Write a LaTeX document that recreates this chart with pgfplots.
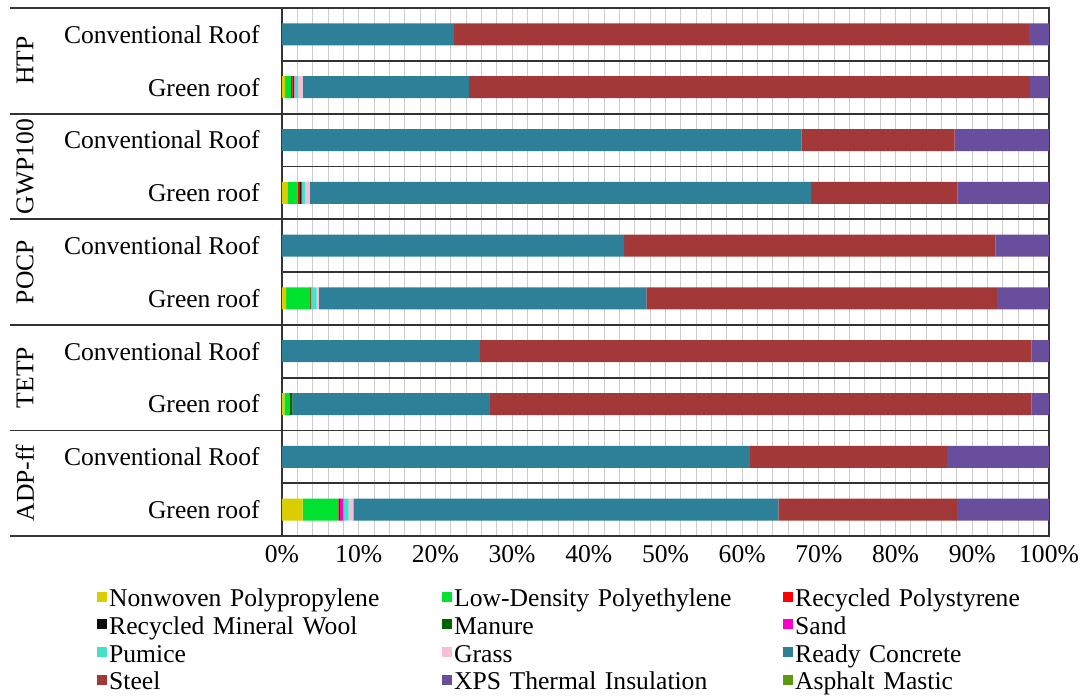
\documentclass[border=0pt]{standalone}
\usepackage{pgfplots}
\pgfplotsset{compat=1.18}
\usepackage{pgfplotstable}
\usepackage{fontspec}
\setmainfont{Liberation Serif}

\definecolor{cNP}{RGB}{218,206,0}
\definecolor{cLDPE}{RGB}{0,226,48}
\definecolor{cRPS}{RGB}{250,0,0}
\definecolor{cRMW}{RGB}{10,10,10}
\definecolor{cMAN}{RGB}{0,100,0}
\definecolor{cSAND}{RGB}{255,0,200}
\definecolor{cPUM}{RGB}{70,226,200}
\definecolor{cGRASS}{RGB}{248,190,215}
\definecolor{cCONC}{RGB}{46,128,153}
\definecolor{cSTEEL}{RGB}{163,56,56}
\definecolor{cXPS}{RGB}{106,78,158}
\definecolor{cASPH}{RGB}{90,154,16}

\newcommand{\fs}{\fontsize{12.8}{14}\selectfont}

% share of each material (%), rows: HTP conv/green, GWP100, POCP, TETP, ADP-ff
\pgfplotstableread{
y NP  LDPE RPS  RMW  MAN  SAND PUM  GRASS CONC  STEEL XPS  ASPH
0 0   0    0    0    0    0    0    0     22.4  75.0  2.6  0
1 0.4 0.8  0.2  0.05 0.1  0.05 0.5  0.6   21.7  73.1  2.5  0
2 0   0    0    0    0    0    0    0     67.7  20.0  12.3 0
3 0.7 1.35 0.3  0.1  0.1  0.05 0.45 0.6   65.35 19.1  11.9 0
4 0   0    0    0    0    0    0    0     44.6  48.4  7.0  0
5 0.55 3.1 0.05 0    0.05 0.05 0.7  0.3   42.7  45.7  6.8  0
6 0   0    0    0    0    0    0    0     25.8  71.9  2.3  0
7 0.3 0.65 0.05 0.05 0.3  0    0    0     25.75 70.6  2.3  0
8 0   0    0    0    0    0    0    0     61.0  25.7  13.3 0
9 2.7 4.65 0.05 0.05 0.1  0.45 0.7  0.6   55.4  23.3  12.0 0
}\shares

\tikzset{sep/.style={black!80, line width=0.9pt}}

\begin{document}
\begin{tikzpicture}
\begin{axis}[
  scale only axis,
  width=383.5pt, height=264pt,
  xbar stacked, bar width=11pt,
  xmin=0, xmax=100, ymin=-0.5, ymax=9.5,
  y dir=reverse,
  xtick={0,10,...,100},
  minor x tick num=4,
  xmajorgrids, xminorgrids,
  grid style={black!20, line width=0.5pt},
  minor grid style={black!20, line width=0.5pt},
  major tick length=0pt, minor tick length=0pt,
  axis line style={black!80, line width=0.9pt},
  xticklabel={\pgfmathprintnumber{\tick}\%},
  /pgf/number format/assume math mode=true,
  xticklabel style={font=\fs, inner sep=0pt, yshift=-4.5pt},
  ytick={0,...,9},
  yticklabels={Conventional Roof,Green roof,Conventional Roof,Green roof,Conventional Roof,Green roof,Conventional Roof,Green roof,Conventional Roof,Green roof},
  yticklabel style={font=\fs, anchor=east, inner sep=0pt, xshift=-11pt},
  every axis plot/.append style={draw=none},
  legend columns=3,
  legend cell align=left,
  legend image code/.code={\fill[#1] (0pt,-0.5pt) rectangle (5pt,4.5pt);},
  legend style={
    at={(-0.2412,-0.0958)}, anchor=north west, draw=none, inner sep=0pt,
    font=\fs,
    nodes={inner sep=0.9pt, text height=9pt, text depth=3pt, text width=165.7pt, align=left},
    /tikz/every odd column/.append style={column sep=0pt},
    /tikz/column 4/.style={nodes={text width=163.7pt}},
    /tikz/column 6/.style={nodes={text width=135pt}},
  },
  clip=false,
]
\addplot[fill=cNP]    table[x=NP,    y=y] {\shares};
\addplot[fill=cLDPE]  table[x=LDPE,  y=y] {\shares};
\addplot[fill=cRPS]   table[x=RPS,   y=y] {\shares};
\addplot[fill=cRMW]   table[x=RMW,   y=y] {\shares};
\addplot[fill=cMAN]   table[x=MAN,   y=y] {\shares};
\addplot[fill=cSAND]  table[x=SAND,  y=y] {\shares};
\addplot[fill=cPUM]   table[x=PUM,   y=y] {\shares};
\addplot[fill=cGRASS] table[x=GRASS, y=y] {\shares};
\addplot[fill=cCONC]  table[x=CONC,  y=y] {\shares};
\addplot[fill=cSTEEL] table[x=STEEL, y=y] {\shares};
\addplot[fill=cXPS]   table[x=XPS,   y=y] {\shares};
\addplot[fill=cASPH]  table[x=ASPH,  y=y] {\shares};
\legend{Nonwoven Polypropylene,Low-Density Polyethylene,Recycled Polystyrene,
        Recycled Mineral Wool,Manure,Sand,
        Pumice,Grass,Ready Concrete,
        Steel,XPS Thermal Insulation,Asphalt Mastic}

% separators between the two roofs of each indicator
\draw[sep] (axis cs:0,0.5) -- (axis cs:100,0.5);
\draw[sep] (axis cs:0,2.5) -- (axis cs:100,2.5);
\draw[sep] (axis cs:0,4.5) -- (axis cs:100,4.5);
\draw[sep] (axis cs:0,6.5) -- (axis cs:100,6.5);
\draw[sep] (axis cs:0,8.5) -- (axis cs:100,8.5);
% separators between indicators, running under the labels
\draw[sep] ([xshift=-136pt]axis cs:0,-0.5) -- (axis cs:100,-0.5);
\draw[sep] ([xshift=-136pt]axis cs:0,1.5) -- (axis cs:100,1.5);
\draw[sep] ([xshift=-136pt]axis cs:0,3.5) -- (axis cs:100,3.5);
\draw[sep] ([xshift=-136pt]axis cs:0,5.5) -- (axis cs:100,5.5);
\draw[sep] ([xshift=-136pt]axis cs:0,7.5) -- (axis cs:100,7.5);
\draw[sep] ([xshift=-136pt]axis cs:0,9.5) -- (axis cs:100,9.5);
% indicator names
\node[font=\fs, rotate=90, inner sep=0pt] at ([xshift=-128.5pt]axis cs:0,0.5) {HTP};
\node[font=\fs, rotate=90, inner sep=0pt] at ([xshift=-128.5pt]axis cs:0,2.5) {GWP100};
\node[font=\fs, rotate=90, inner sep=0pt] at ([xshift=-128.5pt]axis cs:0,4.5) {POCP};
\node[font=\fs, rotate=90, inner sep=0pt] at ([xshift=-128.5pt]axis cs:0,6.5) {TETP};
\node[font=\fs, rotate=90, inner sep=0pt] at ([xshift=-128.5pt]axis cs:0,8.5) {ADP-ff};
% page extent
\path ([xshift=-141pt,yshift=4pt]rel axis cs:0,1) rectangle ([xshift=17.5pt,yshift=-80pt]rel axis cs:1,0);
\end{axis}
\end{tikzpicture}
\end{document}
